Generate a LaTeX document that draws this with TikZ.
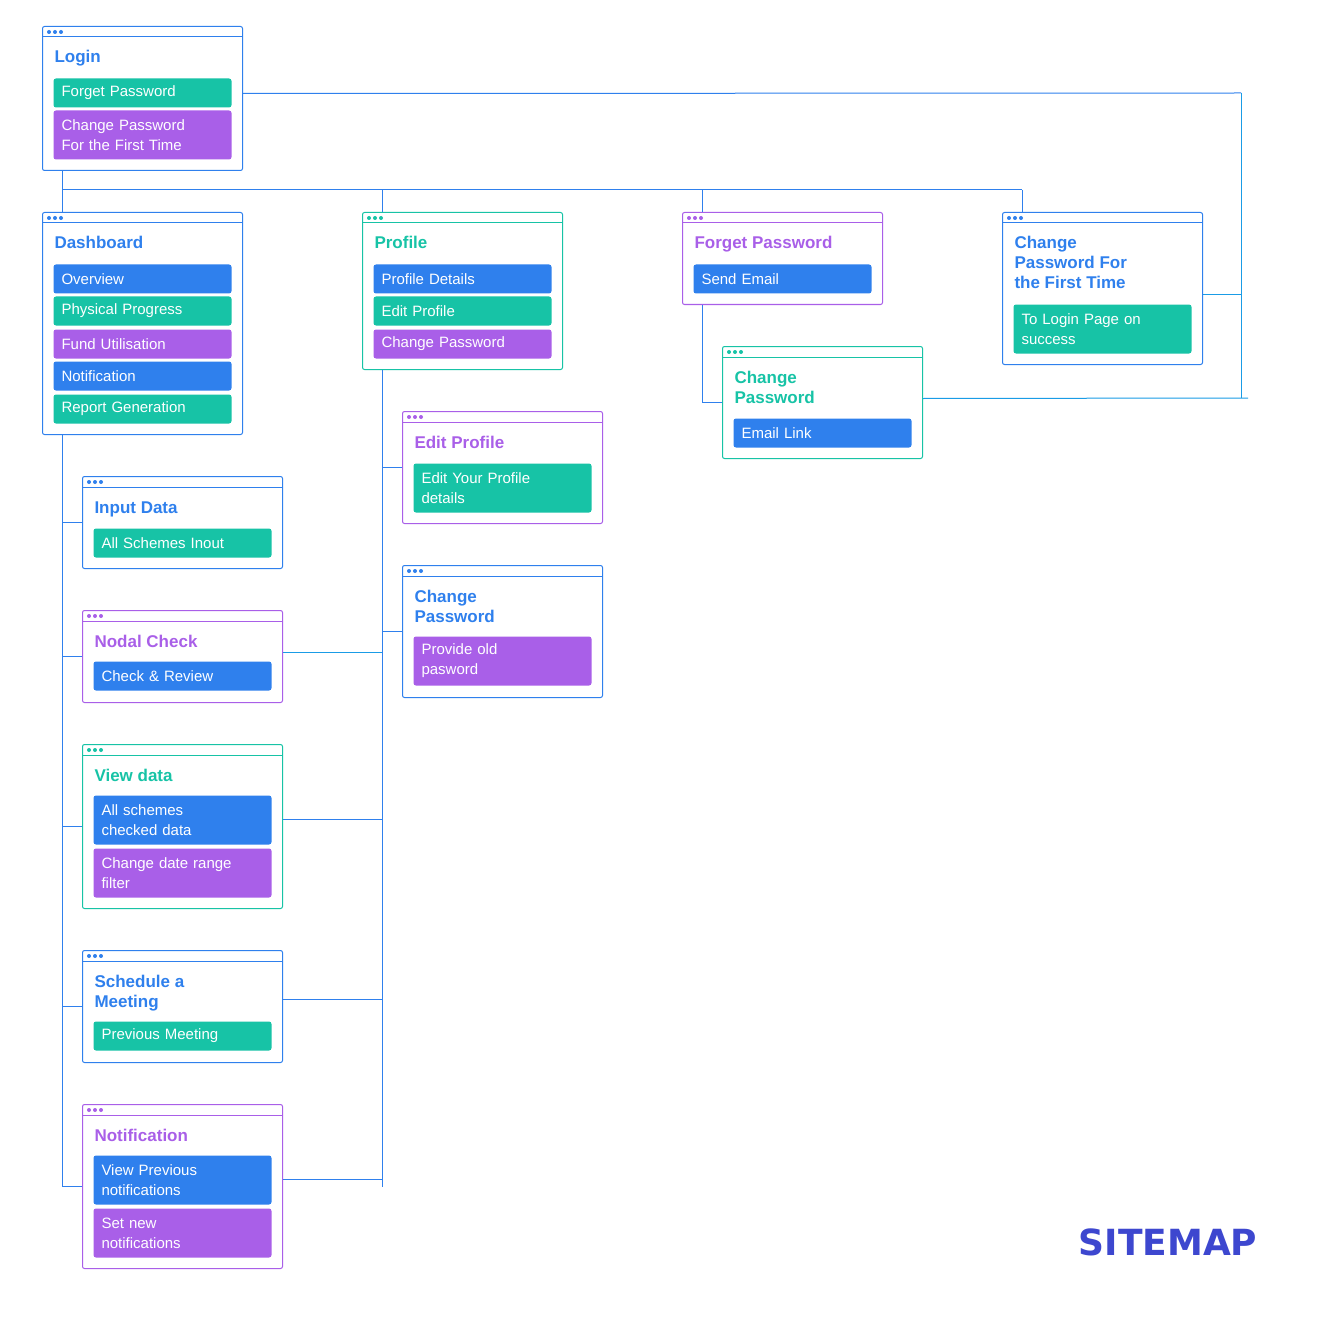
\documentclass[tikz,border=0pt]{standalone}
\usepackage{fontspec}
\setmainfont{Liberation Sans}
\newfontfamily\mapfont{DejaVu Sans}
\usepackage{tikz}
\usetikzlibrary{positioning}
\definecolor{tblue}{HTML}{2F80ED}
\definecolor{tgreen}{HTML}{17C3A6}
\definecolor{tpurple}{HTML}{A95FE8}
\definecolor{tcyan}{HTML}{1A9CE6}
\definecolor{mapblue}{HTML}{3D47CF}
\tikzset{every picture/.style={line width=1pt}}
\tikzstyle{win}=[draw,rounded corners=2pt,minimum width=200pt,inner sep=0pt,anchor=north west]
\tikzstyle{cell}=[rounded corners=2.5pt,anchor=north west,text=white,text width=162pt,inner xsep=8pt,inner ysep=0pt,align=left,font=\fontsize{15}{20}\selectfont]
\tikzstyle{ttl}=[anchor=base west,inner sep=0pt,align=left,font=\fontsize{17}{20}\selectfont\bfseries]
\tikzstyle{conn}=[draw=tblue,line width=1pt]
\tikzstyle{connc}=[draw=tcyan,line width=1pt]
% window frame with header bar and three dots
\newcommand{\sitewin}[5]{%
  \node[win,draw=#5,minimum height=#4pt] (#1) at (#2,#3) {};
  \draw[#5] ([yshift=-11pt]#1.north west) -- ([yshift=-11pt]#1.north east);
  \foreach \d in {7,13,19}
    \fill[#5] ([xshift=\d pt,yshift=-6pt]#1.north west) circle (2pt);
}
\begin{document}
\begin{tikzpicture}[x=1pt,y=-1pt]
\fill[white] (0,0) rectangle (1321,1321);
\useasboundingbox (0,0) rectangle (1321,1321);
% top row (title nodes sit on the baseline of their last line)
\sitewin{login}{42}{26}{144}{tblue}
\node[ttl,text=tblue] (loginT) at (54,63) {Login};
\node[cell,fill=tgreen,minimum height=29pt] (loginA) at (53,78) {Forget Password};
\node[cell,fill=tpurple,minimum height=49pt] (loginB) at (53,110) {Change Password\\For the First Time};
\sitewin{dash}{42}{212}{222}{tblue}
\node[ttl,text=tblue] (dashT) at (54,249) {Dashboard};
\node[cell,fill=tblue,minimum height=29pt] (dashA) at (53,264) {Overview};
\node[cell,fill=tgreen,minimum height=29pt] (dashB) at (53,296) {Physical Progress};
\node[cell,fill=tpurple,minimum height=29pt] (dashC) at (53,329) {Fund Utilisation};
\node[cell,fill=tblue,minimum height=29pt] (dashD) at (53,361) {Notification};
\node[cell,fill=tgreen,minimum height=29pt] (dashE) at (53,394) {Report Generation};
\sitewin{prof}{362}{212}{157}{tgreen}
\node[ttl,text=tgreen] (profT) at (374,249) {Profile};
\node[cell,fill=tblue,minimum height=29pt] (profA) at (373,264) {Profile Details};
\node[cell,fill=tgreen,minimum height=29pt] (profB) at (373,296) {Edit Profile};
\node[cell,fill=tpurple,minimum height=29pt] (profC) at (373,329) {Change Password};
\sitewin{fgt}{682}{212}{92}{tpurple}
\node[ttl,text=tpurple] (fgtT) at (694,249) {Forget Password};
\node[cell,fill=tblue,minimum height=29pt] (fgtA) at (693,264) {Send Email};
\sitewin{cpft}{1002}{212}{152}{tblue}
\node[ttl,text=tblue] (cpftT) at (1014,289) {Change\\Password For\\the First Time};
\node[cell,fill=tgreen,minimum height=49pt] (cpftA) at (1013,304) {To Login Page on\\success};
\sitewin{cpe}{722}{346}{112}{tgreen}
\node[ttl,text=tgreen] (cpeT) at (734,403) {Change\\Password};
\node[cell,fill=tblue,minimum height=29pt] (cpeA) at (733,418) {Email Link};
% profile branch
\sitewin{editp}{402}{411}{112}{tpurple}
\node[ttl,text=tpurple] (editpT) at (414,448) {Edit Profile};
\node[cell,fill=tgreen,minimum height=49pt] (editpA) at (413,463) {Edit Your Profile\\details};
\sitewin{cpp}{402}{565}{132}{tblue}
\node[ttl,text=tblue] (cppT) at (414,622) {Change\\Password};
\node[cell,fill=tpurple,minimum height=49pt] (cppA) at (413,636) {Provide old\\pasword};
% dashboard branch
\sitewin{input}{82}{476}{92}{tblue}
\node[ttl,text=tblue] (inputT) at (94,513) {Input Data};
\node[cell,fill=tgreen,minimum height=29pt] (inputA) at (93,528) {All Schemes Inout};
\sitewin{nodal}{82}{610}{92}{tpurple}
\node[ttl,text=tpurple] (nodalT) at (94,647) {Nodal Check};
\node[cell,fill=tblue,minimum height=29pt] (nodalA) at (93,661) {Check \& Review};
\sitewin{view}{82}{744}{164}{tgreen}
\node[ttl,text=tgreen] (viewT) at (94,781) {View data};
\node[cell,fill=tblue,minimum height=49pt] (viewA) at (93,795) {All schemes\\checked data};
\node[cell,fill=tpurple,minimum height=49pt] (viewB) at (93,848) {Change date range\\filter};
\sitewin{sched}{82}{950}{112}{tblue}
\node[ttl,text=tblue] (schedT) at (94,1007) {Schedule a\\Meeting};
\node[cell,fill=tgreen,minimum height=29pt] (schedA) at (93,1021) {Previous Meeting};
\sitewin{notif}{82}{1104}{164}{tpurple}
\node[ttl,text=tpurple] (notifT) at (94,1141) {Notification};
\node[cell,fill=tblue,minimum height=49pt] (notifA) at (93,1155) {View Previous\\notifications};
\node[cell,fill=tpurple,minimum height=49pt] (notifB) at (93,1208) {Set new\\notifications};
\node[font=\mapfont\bfseries\fontsize{36}{40}\selectfont,text=mapblue] (map) at (1168,1242) {SITEMAP};
% connectors
\coordinate (dstem) at ([xshift=20pt]dash.south west);
\coordinate (pstem) at ([xshift=20pt]prof.south west);
\coordinate (railtop) at (1241,93);
\coordinate (railbot) at (1241,398);
\coordinate (railend) at (1248,398);
\draw[conn] ([xshift=20pt]login.south west) -- ([xshift=20pt]dash.north west);
\draw[conn] ([xshift=20pt,yshift=22pt]dash.north west) -- ([xshift=20pt,yshift=22pt]cpft.north west);
\foreach \n in {prof,fgt,cpft}
  \draw[conn] ([xshift=20pt,yshift=22pt]\n.north west) -- ([xshift=20pt]\n.north west);
\draw[conn] (dstem) |- (notif.west);
\foreach \n in {input,nodal,view,sched}
  \draw[conn] (\n.west) -- (\n.west -| dstem);
\draw[conn] (pstem) -- (pstem |- notif.west);
\draw[conn] (editp.west) -- (editp.west -| pstem);
\draw[conn] (cpp.west) -- (cpp.west -| pstem);
\draw[connc] ([yshift=4pt]nodal.east) -- ([yshift=4pt]nodal.east -| pstem);
\foreach \n in {view,sched,notif}
  \draw[conn] ([yshift=7pt]\n.east) -- ([yshift=7pt]\n.east -| pstem);
\draw[conn] ([xshift=20pt]fgt.south west) |- (cpe.west);
\draw[conn] ([yshift=5pt]login.east) -- (railtop);
\draw[connc] (railtop) -- (railbot);
\draw[connc] ([yshift=-6pt]cpft.east) -- ([yshift=-6pt]cpft.east -| railtop);
\draw[connc] ([yshift=4pt]cpe.east) -- (railend);
\end{tikzpicture}
\end{document}
